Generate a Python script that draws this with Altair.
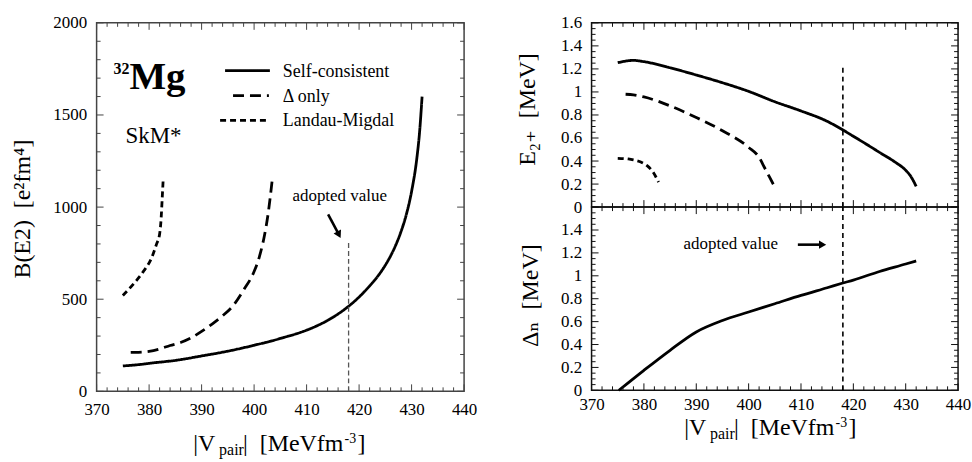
import altair as alt
import pandas as pd

FONT = "Liberation Serif, Times New Roman, Tinos, DejaVu Serif, serif"
NB = "\u00a0"

# ---------------- data ----------------
SERIES = ["Self-consistent", "\u0394 only", "Landau-Migdal"]
ADOPTED_V = 418

# left panel: B(E2) vs |Vpair|
SC_V = [375, 378, 380, 385, 390, 395, 400, 405, 410, 412, 414, 416, 418, 420, 422, 423, 424, 425, 426, 427, 428, 429, 430, 431, 431.5, 432]
SC_BE2 = [138, 145, 152, 168, 192, 218, 250, 287, 332, 356, 385, 420, 462, 512, 572, 605, 642, 685, 735, 795, 868, 960, 1085, 1265, 1400, 1600]
DO_V = [376.5, 378, 380, 382, 384, 386, 388, 390, 392, 394, 396, 398, 400, 401, 402, 402.6, 403.1, 403.5]
DO_BE2 = [211, 212, 217, 230, 249, 265, 290, 325, 365, 410, 465, 550, 650, 730, 850, 950, 1060, 1160]
LM_V = [375, 377, 379, 380.5, 381.4, 382, 382.3, 382.5, 382.7]
LM_BE2 = [520, 582, 654, 726, 798, 853, 942, 1050, 1160]

# right top: E2+ vs |Vpair|
SC_EV = [375, 378, 380, 385, 390, 395, 400, 405, 410, 415, 418, 420, 422, 425, 428, 430, 431, 432]
SC_E = [1.254, 1.274, 1.263, 1.21, 1.147, 1.08, 1.005, 0.915, 0.835, 0.745, 0.67, 0.615, 0.56, 0.475, 0.39, 0.32, 0.265, 0.18]
DO_EV = [376.5, 378, 380, 385, 390, 395, 400, 402, 403, 404, 405]
DO_E = [0.98, 0.975, 0.957, 0.879, 0.778, 0.663, 0.519, 0.432, 0.346, 0.26, 0.173]
LM_EV = [375, 377, 378, 379.5, 380.6, 381.8, 382.8]
LM_E = [0.424, 0.418, 0.41, 0.39, 0.36, 0.30, 0.216]

# right bottom: Delta_n vs |Vpair|
DN_V = [375.2, 380, 385, 390, 395, 400, 405, 410, 415, 418, 420, 425, 430, 432]
DN = [0, 0.175, 0.35, 0.51, 0.61, 0.684, 0.756, 0.829, 0.896, 0.937, 0.963, 1.038, 1.103, 1.13]

# tick values
X_MAJ = [370, 380, 390, 400, 410, 420, 430, 440]
X_MIN = [v for v in range(370, 441, 2) if v % 10]
YL_MAJ = [0, 500, 1000, 1500, 2000]
YL_MIN = [v for v in range(0, 2001, 100) if v % 500]
YR_MAJ = [0, 0.2, 0.4, 0.6, 0.8, 1, 1.2, 1.4, 1.6]
YR_MIN = [round(i * 0.05, 2) for i in range(33) if i % 4]
YR_LAB_BOT = [0, 0.2, 0.4, 0.6, 0.8, 1, 1.2, 1.4]

# ---------------- helpers ----------------
ONE = pd.DataFrame({"a": [0]})
XS = alt.Scale(domain=[370, 440], nice=False, zero=False)
YS_L = alt.Scale(domain=[0, 2000], nice=False)
YS_R = alt.Scale(domain=[0, 1.6], nice=False)
DASH = alt.Scale(domain=SERIES, range=[[1, 0], [11, 6], [6, 4]])


def axis(values, fmt, pad=9):
    return alt.Axis(values=values, format=fmt, ticks=False, domain=False, grid=False,
                    labelFont=FONT, labelFontSize=17, labelColor="black", labelPadding=pad,
                    labelFlush=False, labelOverlap=False, title="")


AX_X = axis(X_MAJ, "d", 10)
AX_XR = axis(X_MAJ, "d", 6)
AX_YL = axis(YL_MAJ, "d", 10)
AX_YRT = axis(YR_MAJ, ".1~f", 10)
AX_YRB = axis(YR_LAB_BOT, ".1~f", 10)


def label(text, x, y, size, align="left", baseline="alphabetic", weight="normal", angle=0):
    kw = dict(text=text, font=FONT, fontSize=size, align=align, baseline=baseline,
              fontWeight=weight, color="black")
    if angle:
        kw["angle"] = angle
    return alt.Chart(ONE).mark_text(**kw).encode(x=alt.value(x), y=alt.value(y))


def xtitle(x0, base):
    return [
        label("|V", x0, base, 24),
        label("pair", x0 + 26, base + 4, 16),
        label("|" + NB + NB + "[MeVfm", x0 + 50, base, 24),
        label("-3", x0 + 152, base - 8, 14),
        label("]", x0 + 165, base, 24),
    ]


def ticks(ax_x, ys, ax_y, W, H, ymaj, ymin, color):
    out = []
    for vals, L in ((X_MAJ, 7), (X_MIN, 4)):
        b = alt.Chart(pd.DataFrame({"v": vals})).mark_rule(color=color, strokeWidth=1)
        out.append(b.encode(x=alt.X("v:Q", scale=XS, axis=ax_x), y=alt.value(H), y2=alt.value(H - L)))
        out.append(b.encode(x=alt.X("v:Q", scale=XS, axis=ax_x), y=alt.value(0), y2=alt.value(L)))
    for vals, L in ((ymaj, 7), (ymin, 4)):
        b = alt.Chart(pd.DataFrame({"v": vals})).mark_rule(color=color, strokeWidth=1)
        out.append(b.encode(y=alt.Y("v:Q", scale=ys, axis=ax_y), x=alt.value(0), x2=alt.value(L)))
        out.append(b.encode(y=alt.Y("v:Q", scale=ys, axis=ax_y), x=alt.value(W), x2=alt.value(W - L)))
    return out


def long_df(parts):
    rows = []
    for name, xs, ys in parts:
        for a, b in zip(xs, ys):
            rows.append({"x": a, "y": b, "series": name})
    return pd.DataFrame(rows)


def arrow(x1, y1, x2, y2, ang, ax_x, ys, ax_y):
    seg = alt.Chart(pd.DataFrame({"x": [x1], "y": [y1], "x2": [x2], "y2": [y2]})).mark_rule(
        color="black", strokeWidth=2.6).encode(
        x=alt.X("x:Q", scale=XS, axis=ax_x), y=alt.Y("y:Q", scale=ys, axis=ax_y),
        x2="x2:Q", y2="y2:Q")
    head = alt.Chart(pd.DataFrame({"x": [x2], "y": [y2]})).mark_point(
        shape="triangle", filled=True, color="black", opacity=1, size=70, angle=ang).encode(
        x=alt.X("x:Q", scale=XS, axis=ax_x), y=alt.Y("y:Q", scale=ys, axis=ax_y))
    return [seg, head]


def anchor(x1, y1, x2, y2):
    return alt.Chart(ONE).mark_rule(opacity=0, strokeWidth=0).encode(
        x=alt.value(x1), x2=alt.value(x2), y=alt.value(y1), y2=alt.value(y2))


# ---------------- left panel ----------------
WL, HL = 369, 370
left_df = long_df([(SERIES[0], SC_V, SC_BE2), (SERIES[1], DO_V, DO_BE2), (SERIES[2], LM_V, LM_BE2)])
left_lines = alt.Chart(left_df).mark_line(color="black", strokeWidth=2.8, interpolate="monotone").encode(
    x=alt.X("x:Q", scale=XS, axis=AX_X),
    y=alt.Y("y:Q", scale=YS_L, axis=AX_YL),
    strokeDash=alt.StrokeDash("series:N", scale=DASH, legend=None),
    detail="series:N",
)
adopt_left = alt.Chart(pd.DataFrame({"x": [ADOPTED_V], "y": [0], "y2": [820]})).mark_rule(
    color="#555", strokeWidth=1.3, strokeDash=[5, 3]).encode(
    x=alt.X("x:Q", scale=XS, axis=AX_X), y=alt.Y("y:Q", scale=YS_L, axis=AX_YL), y2="y2:Q")
adopt_text_left = alt.Chart(pd.DataFrame({"x": [416.3], "y": [1032], "t": ["adopted value"]})).mark_text(
    font=FONT, fontSize=17, align="center", baseline="alphabetic", color="black").encode(
    x=alt.X("x:Q", scale=XS, axis=AX_X), y=alt.Y("y:Q", scale=YS_L, axis=AX_YL), text="t:N")

legend_layers = []
for i, (name, x1, x2) in enumerate(zip(SERIES, [129, 137, 124], [174, 173, 174])):
    yy = 48 + 25 * i
    legend_layers.append(
        alt.Chart(pd.DataFrame({"series": [name]})).mark_rule(color="black", strokeWidth=2.8).encode(
            x=alt.value(x1), x2=alt.value(x2), y=alt.value(yy),
            strokeDash=alt.StrokeDash("series:N", scale=DASH, legend=None)))
    legend_layers.append(label(name, 187, yy + 1, 18, baseline="middle"))

left = alt.layer(
    left_lines,
    *ticks(AX_X, YS_L, AX_YL, WL, HL, YL_MAJ, YL_MIN, "#444"),
    adopt_left,
    adopt_text_left,
    *arrow(414.1, 960, 416.06, 856, 152.7, AX_X, YS_L, AX_YL),
    *legend_layers,
    label("Mg", 33, 66, 39, weight="bold"),
    label("32", 33, 51, 16, align="right", weight="bold"),
    label("SkM*", 29, 121, 23),
    label("B(E2)" + NB + NB + "[e\u00b2fm\u2074]", -74, 187, 24, align="center", baseline="middle", angle=270),
    *xtitle(97, 430),
    anchor(-96, -21, WL + 40, -21),
).properties(width=WL, height=HL, view=alt.ViewBackground(stroke="#444", strokeWidth=1.5))

# ---------------- right top panel ----------------
WR, HT, HB = 368, 185, 184
rt_df = long_df([(SERIES[0], SC_EV, SC_E), (SERIES[1], DO_EV, DO_E), (SERIES[2], LM_EV, LM_E)])
rt_lines = alt.Chart(rt_df).mark_line(color="black", strokeWidth=2.8, interpolate="monotone").encode(
    x=alt.X("x:Q", scale=XS, axis=None),
    y=alt.Y("y:Q", scale=YS_R, axis=AX_YRT),
    strokeDash=alt.StrokeDash("series:N", scale=DASH, legend=None),
    detail="series:N",
)
adopt_rt = alt.Chart(pd.DataFrame({"x": [ADOPTED_V], "y": [0], "y2": [1.21]})).mark_rule(
    color="black", strokeWidth=1.6, strokeDash=[5, 4]).encode(
    x=alt.X("x:Q", scale=XS, axis=None), y=alt.Y("y:Q", scale=YS_R, axis=AX_YRT), y2="y2:Q")
rtop = alt.layer(
    rt_lines,
    *ticks(None, YS_R, AX_YRT, WR, HT, YR_MAJ, YR_MIN, "#111"),
    adopt_rt,
    label("E\u2082\u208a" + NB + NB + "[MeV]", -64, 87, 24, align="center", baseline="middle", angle=270),
    anchor(-86, -18, -85, -18),
).properties(width=WR, height=HT, view=alt.ViewBackground(stroke="#111", strokeWidth=1.5))

# ---------------- right bottom panel ----------------
rb_df = pd.DataFrame({"x": DN_V, "y": DN})
rb_line = alt.Chart(rb_df).mark_line(color="black", strokeWidth=2.8, interpolate="monotone").encode(
    x=alt.X("x:Q", scale=XS, axis=AX_XR),
    y=alt.Y("y:Q", scale=YS_R, axis=AX_YRB),
)
adopt_rb = alt.Chart(pd.DataFrame({"x": [ADOPTED_V], "y": [0], "y2": [1.6]})).mark_rule(
    color="black", strokeWidth=1.6, strokeDash=[5, 4]).encode(
    x=alt.X("x:Q", scale=XS, axis=AX_XR), y=alt.Y("y:Q", scale=YS_R, axis=AX_YRB), y2="y2:Q")
adopt_text_rb = alt.Chart(pd.DataFrame({"x": [396.6], "y": [1.235], "t": ["adopted value"]})).mark_text(
    font=FONT, fontSize=17, align="center", baseline="alphabetic", color="black").encode(
    x=alt.X("x:Q", scale=XS, axis=AX_XR), y=alt.Y("y:Q", scale=YS_R, axis=AX_YRB), text="t:N")
rbot = alt.layer(
    rb_line,
    *ticks(AX_XR, YS_R, AX_YRB, WR, HB, YR_MAJ, YR_MIN, "#111"),
    adopt_rb,
    adopt_text_rb,
    *arrow(409.4, 1.272, 413.9, 1.272, 90, AX_XR, YS_R, AX_YRB),
    label("\u0394\u2099" + NB + NB + "[MeV]", -61, 89, 24, align="center", baseline="middle", angle=270),
    *xtitle(93, 229),
).properties(width=WR, height=HB, view=alt.ViewBackground(stroke="#111", strokeWidth=1.5))

right_col = alt.vconcat(rtop, rbot, spacing=0, bounds="flush")
chart = alt.hconcat(left, right_col, spacing=0).properties(
    padding=0, background="white").configure(font=FONT)

chart.save("out.html", embed_options={"renderer": "svg", "actions": False})
